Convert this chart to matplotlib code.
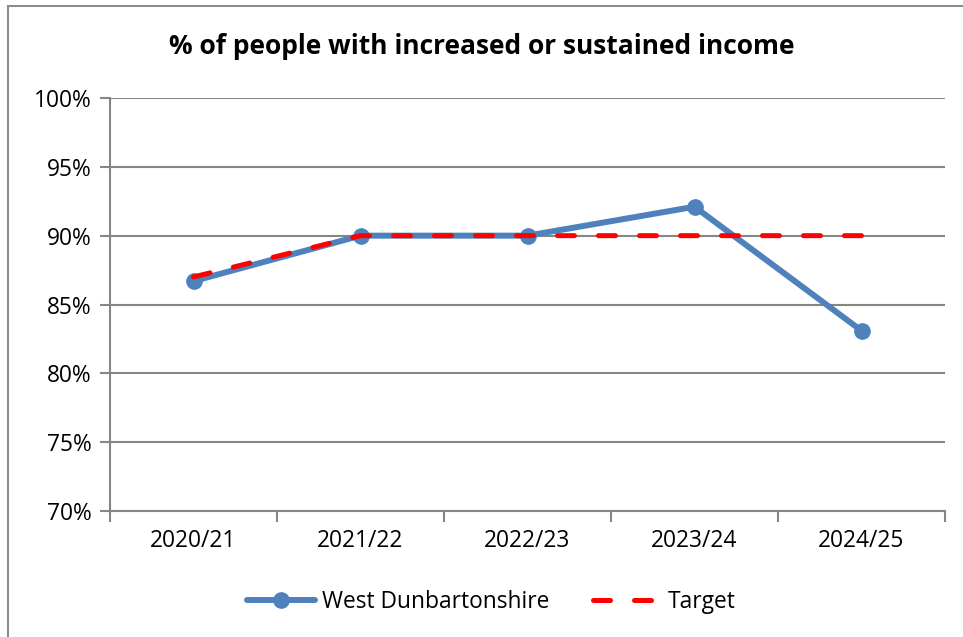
import matplotlib.pyplot as plt
import matplotlib.patches as patches
from matplotlib.ticker import FuncFormatter

# Data
years = ['2020/21', '2021/22', '2022/23', '2023/24', '2024/25']
west_dunbartonshire = [86.7, 90.0, 90.0, 92.1, 83.1]
target = [87.0, 90.0, 90.0, 90.0, 90.0]

plt.rcParams['font.family'] = ['Open Sans', 'DejaVu Sans']

fig = plt.figure(figsize=(9.63, 6.37), dpi=100)
ax = fig.add_axes([110 / 963, 1 - 511 / 637, 835 / 963, 413 / 637])

# outer chart border
border = patches.Rectangle((8 / 963, -0.05), 1.1, 1 - 6 / 637 + 0.05, transform=fig.transFigure,
                           fill=False, edgecolor='#8c8c8c', linewidth=1.5)
fig.patches.append(border)

x = list(range(len(years)))
grey = '#868686'

ax.plot(x, west_dunbartonshire, color='#4F81BD', linewidth=4.3, marker='o',
        markersize=11, solid_capstyle='round', label='West Dunbartonshire', zorder=3)
ax.plot(x, target, color='#FF0000', linewidth=3.6, linestyle=(0, (3.4, 4.8)),
        dash_capstyle='round', label='Target', zorder=4)

ax.set_xlim(-0.5, 4.5)
ax.set_ylim(70, 100)
ax.set_yticks([70, 75, 80, 85, 90, 95, 100])
ax.yaxis.set_major_formatter(FuncFormatter(lambda v, p: f'{v:.0f}%'))
ax.set_xticks(x)
ax.set_xticklabels(years)
ax.set_xticks([-0.5, 0.5, 1.5, 2.5, 3.5, 4.5], minor=True)
ax.tick_params(axis='x', which='major', length=0, pad=13, labelsize=16.4)
ax.tick_params(axis='x', which='minor', length=8, width=1.5, color=grey)
ax.tick_params(axis='y', length=7, width=1.5, color=grey, labelsize=16.4, pad=6)

ax.grid(axis='y', color=grey, linewidth=1.5)
ax.set_axisbelow(True)
for side in ['top', 'right']:
    ax.spines[side].set_visible(False)
for side in ['left', 'bottom']:
    ax.spines[side].set_color(grey)
    ax.spines[side].set_linewidth(1.5)

fig.text(0.5, 1 - 47 / 637, '% of people with increased or sustained income',
         ha='center', va='center', fontsize=19, fontweight='bold')

fig.legend(loc='center', bbox_to_anchor=(0.51, 1 - 602 / 637), ncol=2, frameon=False,
           fontsize=16.4, handlelength=3.0, columnspacing=1.9, handletextpad=0.3)

fig.savefig('out.png', dpi=100)
